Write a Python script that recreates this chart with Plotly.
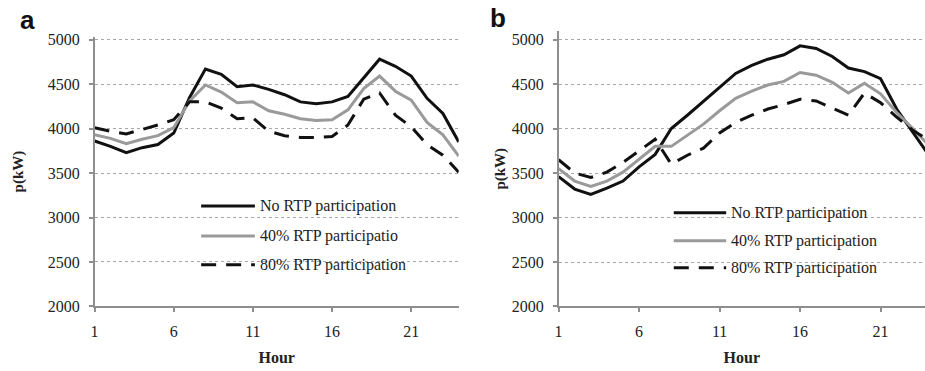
import plotly.graph_objects as go

hours = list(range(1, 25))

# Panel a
a_no = [3860, 3800, 3730, 3785, 3820, 3950, 4350, 4670, 4610, 4470, 4490, 4440,
        4380, 4300, 4280, 4300, 4360, 4570, 4780, 4700, 4590, 4340, 4170, 3850]
a_40 = [3930, 3890, 3830, 3880, 3920, 4010, 4310, 4490, 4410, 4290, 4300, 4200,
        4160, 4110, 4090, 4100, 4210, 4450, 4590, 4420, 4320, 4070, 3930, 3690]
a_80 = [4010, 3970, 3940, 3990, 4040, 4100, 4300, 4300, 4230, 4110, 4120, 3970,
        3920, 3900, 3900, 3910, 4040, 4330, 4400, 4150, 4020, 3820, 3700, 3510]

# Panel b
b_no = [3460, 3320, 3260, 3330, 3410, 3570, 3710, 4000, 4150, 4310, 4470, 4620,
        4710, 4780, 4830, 4930, 4900, 4810, 4680, 4640, 4560, 4220, 3960, 3700]
b_40 = [3550, 3410, 3350, 3410, 3510, 3660, 3800, 3800, 3930, 4050, 4200, 4340,
        4420, 4490, 4530, 4630, 4600, 4520, 4400, 4510, 4390, 4180, 4000, 3810]
b_80 = [3650, 3500, 3450, 3510, 3620, 3750, 3880, 3600, 3700, 3780, 3950, 4070,
        4150, 4220, 4270, 4330, 4310, 4230, 4150, 4400, 4290, 4130, 3980, 3870]

names_a = ["No RTP participation", "40% RTP participatio", "80% RTP participation"]
names_b = ["No RTP participation", "40% RTP participation", "80% RTP participation"]
x_ticks = [1, 6, 11, 16, 21]
y_ticks = [2000, 2500, 3000, 3500, 4000, 4500, 5000]

W, H = 925, 371
BLACK = "#111111"
GRAY = "#9a9a9a"
AX = "#8f8f8f"
TXT = "#222222"
SERIF = "Liberation Serif"

styles = [dict(color=BLACK, width=3, dash="solid"),
          dict(color=GRAY, width=3, dash="solid"),
          dict(color=BLACK, width=3, dash="15px,10px")]

fig = go.Figure()
for vals, st, nm in zip([a_no, a_40, a_80], styles, names_a):
    fig.add_trace(go.Scatter(x=hours, y=vals, mode="lines", line=st, name=nm,
                             xaxis="x", yaxis="y", showlegend=False))
for vals, st, nm in zip([b_no, b_40, b_80], styles, names_b):
    fig.add_trace(go.Scatter(x=hours, y=vals, mode="lines", line=st, name=nm,
                             xaxis="x2", yaxis="y2", showlegend=False))

def px_x(p):
    return p / W

def px_y(p):
    return 1 - p / H

bottom = px_y(313.3)

common_x = dict(tickvals=x_ticks, showgrid=False, zeroline=False, showline=True,
                linecolor=AX, linewidth=1.5, ticks="outside", ticklen=4,
                tickcolor=AX, tickwidth=1.5, ticklabelstandoff=6,
                tickfont=dict(family=SERIF, size=16, color=TXT),
                title=dict(text="<b>Hour</b>", font=dict(family=SERIF, size=16, color=TXT),
                           standoff=12))

def make_y(standoff):
    return dict(tickvals=y_ticks, showgrid=True, gridcolor="#a8a8a8", gridwidth=1,
                griddash="dot", zeroline=False, showline=True, linecolor=AX,
                linewidth=1.5, ticks="outside", ticklen=4, tickcolor=AX, tickwidth=1.5,
                ticklabelstandoff=6,
                tickfont=dict(family=SERIF, size=16, color=TXT),
                title=dict(text="<b>p(kW)</b>", font=dict(family=SERIF, size=15, color=TXT),
                           standoff=standoff))

fig.update_layout(
    width=W, height=H, margin=dict(l=0, r=0, t=0, b=0),
    paper_bgcolor="white", plot_bgcolor="white",
    font=dict(family=SERIF, color=TXT),
    xaxis=dict(domain=[px_x(91), px_x(456.7)], range=[1, 24], anchor="y", **common_x),
    yaxis=dict(domain=[bottom, px_y(33)], range=[2000, 5032], anchor="x", **make_y(20)),
    xaxis2=dict(domain=[px_x(557), 1.0], range=[1, 23.76], anchor="y2", **common_x),
    yaxis2=dict(domain=[bottom, px_y(27)], range=[2000, 5097], anchor="x2", **make_y(2)),
)

shapes = []
annos = []

def add_legend(x0, x1, xt, rows, names):
    for (yy, st, nm) in zip(rows, styles, names):
        shapes.append(dict(type="line", xref="paper", yref="paper",
                           x0=px_x(x0), x1=px_x(x1), y0=px_y(yy), y1=px_y(yy),
                           line=dict(color=st["color"], width=3, dash=st["dash"])))
        annos.append(dict(xref="paper", yref="paper", x=px_x(xt), y=px_y(yy),
                          xanchor="left", yanchor="middle", text=nm, showarrow=False,
                          font=dict(family=SERIF, size=16, color=TXT)))

add_legend(198, 252, 255, [209, 240, 270], names_a)
add_legend(672.7, 725.3, 728, [216, 245, 273], names_b)

annos.append(dict(xref="paper", yref="paper", x=px_x(14), y=px_y(16), xanchor="left",
                  yanchor="middle", text="<b>a</b>", showarrow=False,
                  font=dict(family="Liberation Sans", size=26, color="#111")))
annos.append(dict(xref="paper", yref="paper", x=px_x(486), y=px_y(14), xanchor="left",
                  yanchor="middle", text="<b>b</b>", showarrow=False,
                  font=dict(family="Liberation Sans", size=26, color="#111")))

fig.update_layout(shapes=shapes, annotations=annos)
fig.write_html("out.html")
